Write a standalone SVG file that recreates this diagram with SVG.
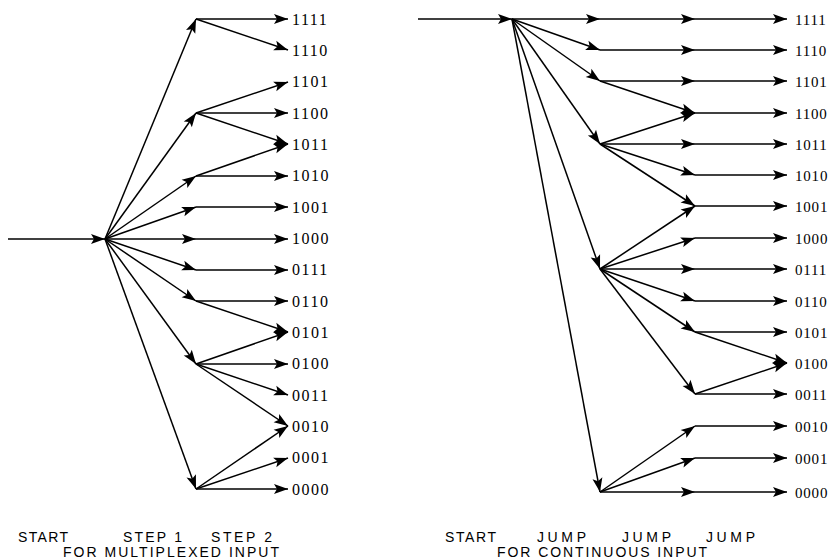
<svg xmlns="http://www.w3.org/2000/svg" width="838" height="560" viewBox="0 0 838 560">
<style>
  .c line { stroke: #000; stroke-width: 1.5; fill: none; marker-end: url(#ah); }
  .lbl { font-family: "Liberation Serif", "Times New Roman", serif; font-size: 16px; letter-spacing: 1.5px; fill: #000; }
  .lblr { font-family: "Liberation Serif", "Times New Roman", serif; font-size: 15px; letter-spacing: 0.8px; fill: #000; }
  .cap { font-family: "Liberation Sans", Arial, sans-serif; font-size: 14px; fill: #000; }
</style>
<defs>
  <marker id="ah" markerUnits="userSpaceOnUse" markerWidth="15" markerHeight="11" refX="14" refY="5" orient="auto" overflow="visible">
    <path d="M0,0 L14,5 L0,10 L3,5 z" fill="#000"/>
  </marker>
</defs>

<!-- LEFT: multiplexed input -->
<g id="connectors-left" class="c">
  <line x1="8" y1="239" x2="105" y2="239"/>
  <line x1="105" y1="239" x2="196" y2="19"/>
  <line x1="105" y1="239" x2="196" y2="113"/>
  <line x1="105" y1="239" x2="196" y2="176"/>
  <line x1="105" y1="239" x2="196" y2="207"/>
  <line x1="105" y1="239" x2="196" y2="239"/>
  <line x1="105" y1="239" x2="196" y2="270"/>
  <line x1="105" y1="239" x2="196" y2="301"/>
  <line x1="105" y1="239" x2="196" y2="364"/>
  <line x1="105" y1="239" x2="196" y2="489"/>
  <line x1="196" y1="19" x2="288" y2="19"/>
  <line x1="196" y1="19" x2="288" y2="50"/>
  <line x1="196" y1="113" x2="288" y2="82"/>
  <line x1="196" y1="113" x2="288" y2="113"/>
  <line x1="196" y1="113" x2="288" y2="144"/>
  <line x1="196" y1="176" x2="288" y2="144"/>
  <line x1="196" y1="176" x2="288" y2="176"/>
  <line x1="196" y1="207" x2="288" y2="207"/>
  <line x1="196" y1="239" x2="288" y2="239"/>
  <line x1="196" y1="270" x2="288" y2="270"/>
  <line x1="196" y1="301" x2="288" y2="301"/>
  <line x1="196" y1="301" x2="288" y2="332"/>
  <line x1="196" y1="364" x2="288" y2="332"/>
  <line x1="196" y1="364" x2="288" y2="364"/>
  <line x1="196" y1="364" x2="288" y2="395"/>
  <line x1="196" y1="364" x2="288" y2="426"/>
  <line x1="196" y1="489" x2="288" y2="426"/>
  <line x1="196" y1="489" x2="288" y2="458"/>
  <line x1="196" y1="489" x2="288" y2="489"/>
</g>
<g id="labels-left" class="lbl">
  <g id="L1111"><text x="292" y="24.5">1111</text></g>
  <g id="L1110"><text x="292" y="55.5">1110</text></g>
  <g id="L1101"><text x="292" y="87">1101</text></g>
  <g id="L1100"><text x="292" y="118.5">1100</text></g>
  <g id="L1011"><text x="292" y="149.5">1011</text></g>
  <g id="L1010"><text x="292" y="181">1010</text></g>
  <g id="L1001"><text x="292" y="212.5">1001</text></g>
  <g id="L1000"><text x="292" y="244">1000</text></g>
  <g id="L0111"><text x="292" y="275">0111</text></g>
  <g id="L0110"><text x="292" y="306.5">0110</text></g>
  <g id="L0101"><text x="292" y="337.5">0101</text></g>
  <g id="L0100"><text x="292" y="369">0100</text></g>
  <g id="L0011"><text x="292" y="400.5">0011</text></g>
  <g id="L0010"><text x="292" y="431.5">0010</text></g>
  <g id="L0001"><text x="292" y="463">0001</text></g>
  <g id="L0000"><text x="292" y="494.5">0000</text></g>
</g>
<g id="caption-left" class="cap">
  <text x="18" y="542" textLength="50" lengthAdjust="spacing">START</text>
  <text x="123" y="542" textLength="59" lengthAdjust="spacing">STEP 1</text>
  <text x="211" y="542" textLength="61" lengthAdjust="spacing">STEP 2</text>
  <text x="63" y="557" textLength="216" lengthAdjust="spacing">FOR MULTIPLEXED INPUT</text>
</g>

<!-- RIGHT: continuous input -->
<g id="connectors-right" class="c">
  <line x1="418" y1="19" x2="512" y2="19"/>
  <line x1="512" y1="19" x2="600" y2="19"/>
  <line x1="512" y1="19" x2="600" y2="50"/>
  <line x1="512" y1="19" x2="600" y2="81"/>
  <line x1="512" y1="19" x2="600" y2="144"/>
  <line x1="512" y1="19" x2="600" y2="269"/>
  <line x1="512" y1="19" x2="600" y2="492"/>
  <line x1="600" y1="19" x2="695" y2="19"/>
  <line x1="600" y1="50" x2="695" y2="50"/>
  <line x1="600" y1="81" x2="695" y2="81"/>
  <line x1="600" y1="81" x2="695" y2="113"/>
  <line x1="600" y1="144" x2="695" y2="113"/>
  <line x1="600" y1="144" x2="695" y2="144"/>
  <line x1="600" y1="144" x2="695" y2="175"/>
  <line x1="600" y1="144" x2="695" y2="206"/>
  <line x1="600" y1="269" x2="695" y2="206"/>
  <line x1="600" y1="269" x2="695" y2="238"/>
  <line x1="600" y1="269" x2="695" y2="269"/>
  <line x1="600" y1="269" x2="695" y2="301"/>
  <line x1="600" y1="269" x2="695" y2="332"/>
  <line x1="600" y1="269" x2="695" y2="394"/>
  <line x1="600" y1="492" x2="695" y2="426"/>
  <line x1="600" y1="492" x2="695" y2="458"/>
  <line x1="600" y1="492" x2="695" y2="492"/>
  <line x1="695" y1="19" x2="787" y2="19"/>
  <line x1="695" y1="50" x2="787" y2="50"/>
  <line x1="695" y1="81" x2="787" y2="81"/>
  <line x1="695" y1="113" x2="787" y2="113"/>
  <line x1="695" y1="144" x2="787" y2="144"/>
  <line x1="695" y1="175" x2="787" y2="175"/>
  <line x1="695" y1="206" x2="787" y2="206"/>
  <line x1="695" y1="238" x2="787" y2="238"/>
  <line x1="695" y1="269" x2="787" y2="269"/>
  <line x1="695" y1="301" x2="787" y2="301"/>
  <line x1="695" y1="332" x2="787" y2="332"/>
  <line x1="695" y1="332" x2="787" y2="363"/>
  <line x1="695" y1="394" x2="787" y2="363"/>
  <line x1="695" y1="394" x2="787" y2="394"/>
  <line x1="695" y1="426" x2="787" y2="426"/>
  <line x1="695" y1="458" x2="787" y2="458"/>
  <line x1="695" y1="492" x2="787" y2="492"/>
</g>
<g id="labels-right" class="lblr">
  <g id="R1111"><text x="795" y="24.5">1111</text></g>
  <g id="R1110"><text x="795" y="55.5">1110</text></g>
  <g id="R1101"><text x="795" y="86.5">1101</text></g>
  <g id="R1100"><text x="795" y="118.5">1100</text></g>
  <g id="R1011"><text x="795" y="149.5">1011</text></g>
  <g id="R1010"><text x="795" y="180.5">1010</text></g>
  <g id="R1001"><text x="795" y="211.5">1001</text></g>
  <g id="R1000"><text x="795" y="243.5">1000</text></g>
  <g id="R0111"><text x="795" y="274.5">0111</text></g>
  <g id="R0110"><text x="795" y="306.5">0110</text></g>
  <g id="R0101"><text x="795" y="337.5">0101</text></g>
  <g id="R0100"><text x="795" y="368.5">0100</text></g>
  <g id="R0011"><text x="795" y="399.5">0011</text></g>
  <g id="R0010"><text x="795" y="431.5">0010</text></g>
  <g id="R0001"><text x="795" y="463.5">0001</text></g>
  <g id="R0000"><text x="795" y="497.5">0000</text></g>
</g>
<g id="caption-right" class="cap">
  <text x="445" y="542" textLength="51" lengthAdjust="spacing">START</text>
  <text x="537" y="542" textLength="49" lengthAdjust="spacing">JUMP</text>
  <text x="622" y="542" textLength="49" lengthAdjust="spacing">JUMP</text>
  <text x="706" y="542" textLength="49" lengthAdjust="spacing">JUMP</text>
  <text x="497" y="557" textLength="210" lengthAdjust="spacing">FOR CONTINUOUS INPUT</text>
</g>
</svg>
